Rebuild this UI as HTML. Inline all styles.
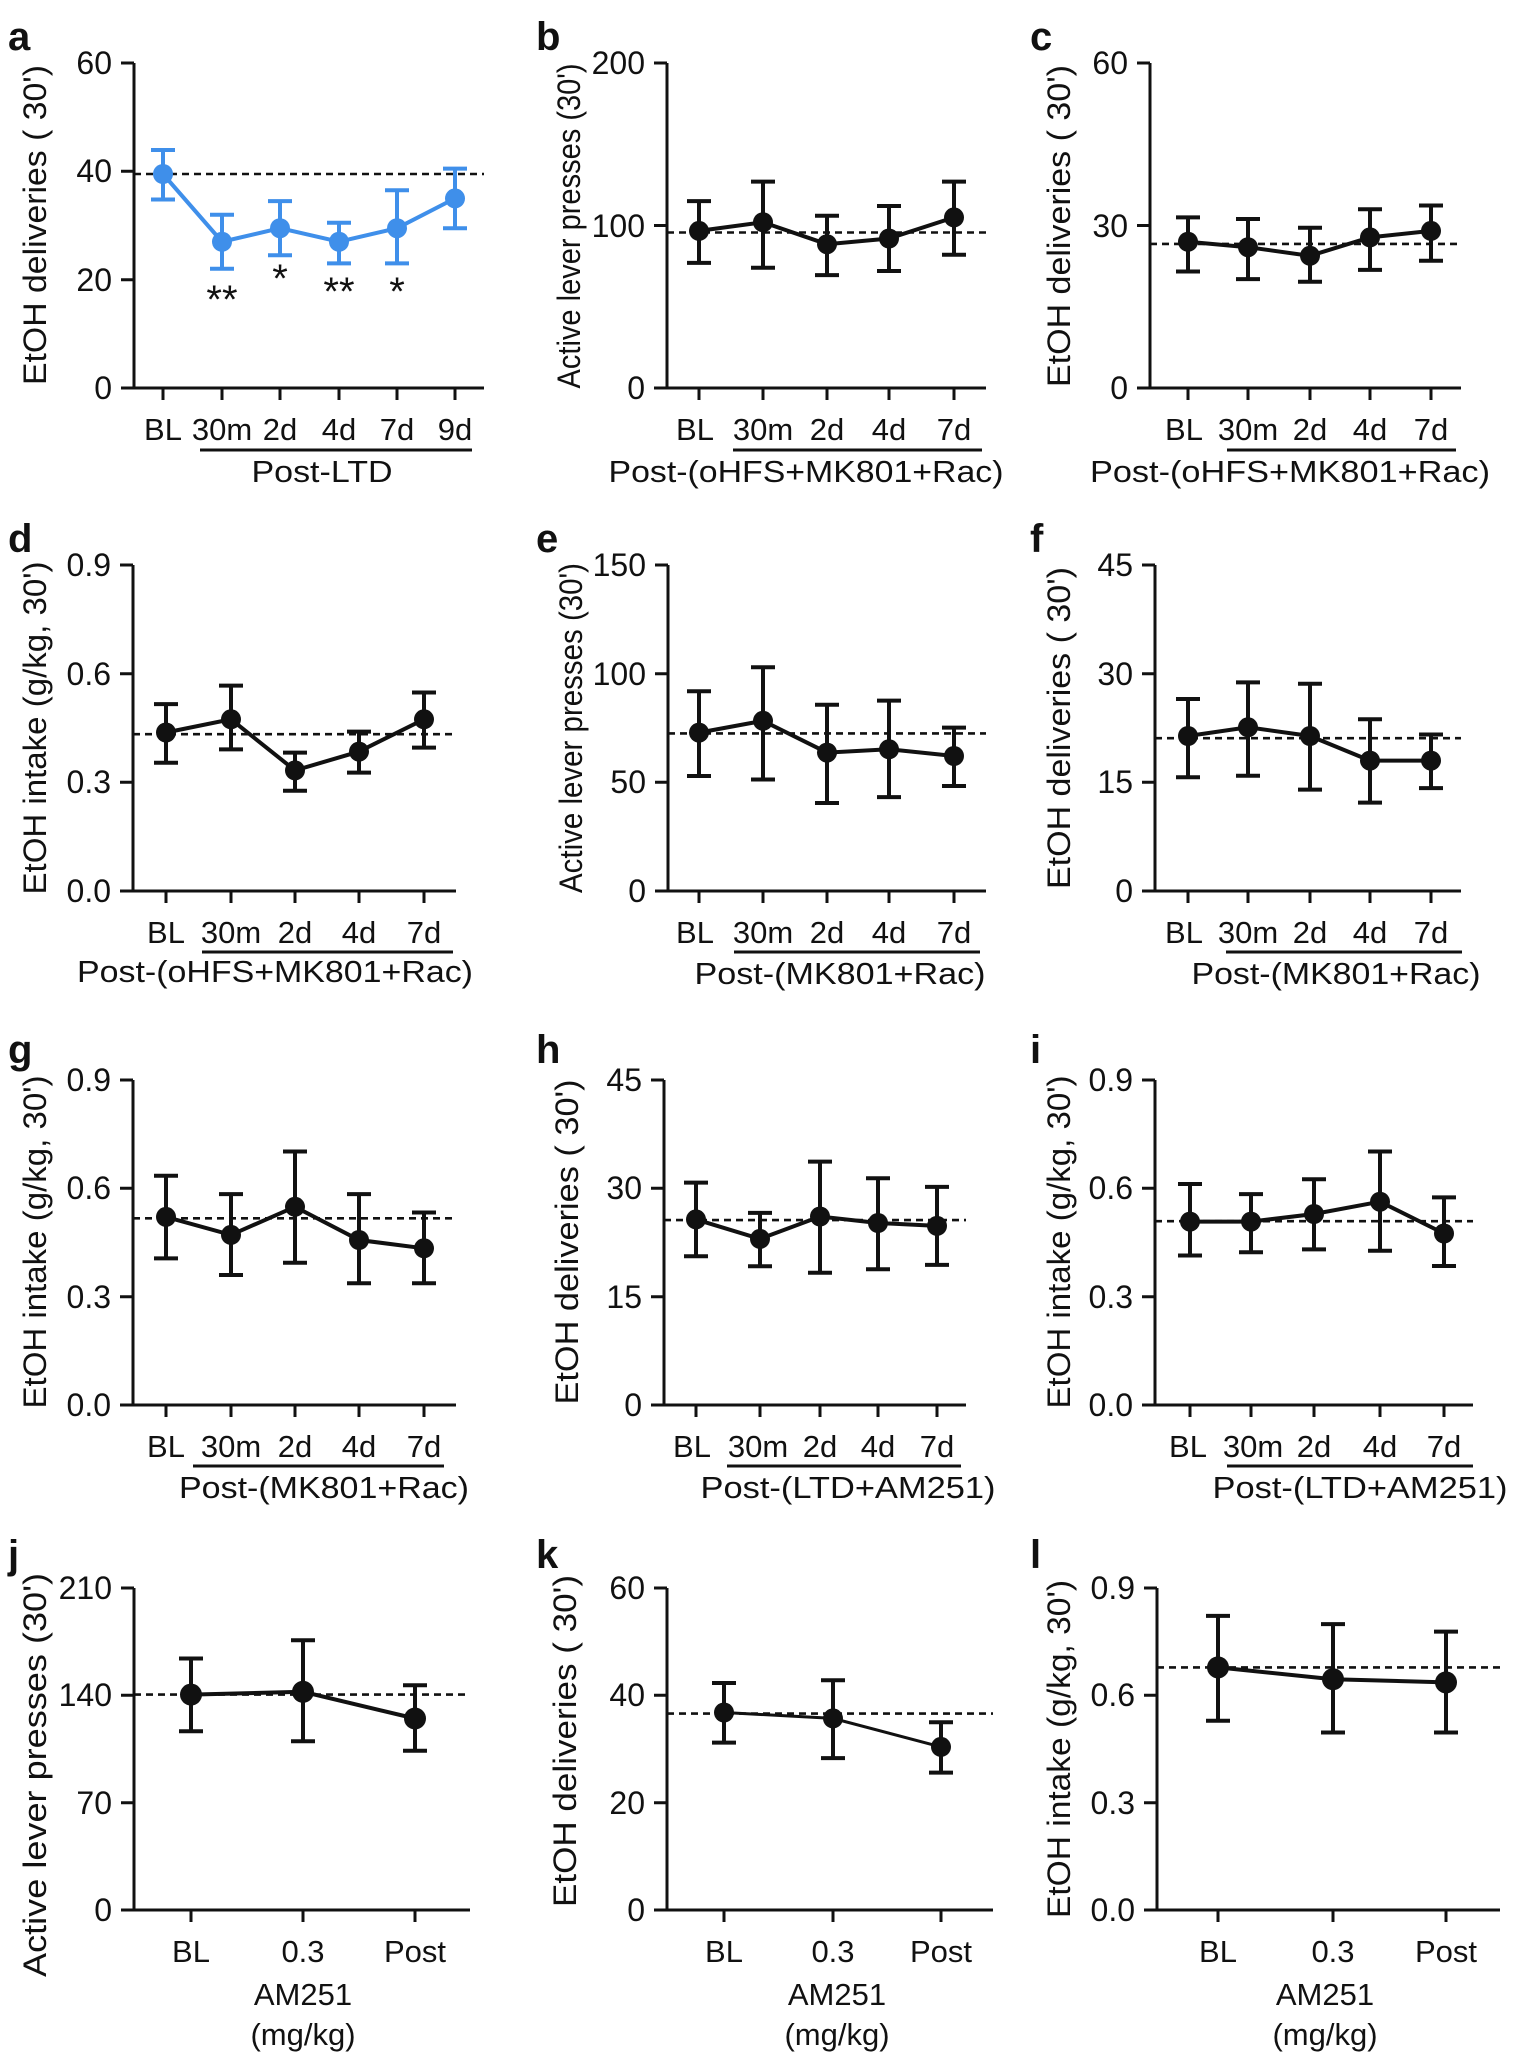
<!DOCTYPE html>
<html><head><meta charset="utf-8"><style>
html,body{margin:0;padding:0;background:#fff}
svg{display:block}
text{font-family:"Liberation Sans Narrow","Liberation Sans",Arial,sans-serif;fill:#111}
.ax{stroke:#111;stroke-width:3;fill:none}
.d{stroke:#111;stroke-width:2.6;stroke-dasharray:7 5;fill:none}
.k{stroke:#111;stroke-width:4;fill:none}
.kd{fill:#111}
.b{stroke:#3f8fea;stroke-width:4;fill:none}
.bd{fill:#3f8fea}
.yt{font-size:32px;text-anchor:end}
.xt{font-size:31px;text-anchor:middle}
.gl{font-size:31px;text-anchor:middle}
.yl{font-size:32px;text-anchor:middle}
.pl{font-size:40px;font-weight:bold;font-family:"Liberation Sans",Arial,sans-serif}
.st{font-size:40px;text-anchor:middle}
</style></head><body>
<svg width="1514" height="2066" viewBox="0 0 1514 2066" xmlns="http://www.w3.org/2000/svg">
<rect width="1514" height="2066" fill="#fff"/>

<!-- ===== Panel a ===== -->
<text class="pl" x="8" y="50">a</text>
<text class="yl" transform="translate(46,225) rotate(-90)" textLength="320" lengthAdjust="spacingAndGlyphs">EtOH deliveries ( 30')</text>
<path class="ax" d="M134,63V388M121,63H134M121,171.3H134M121,279.7H134M121,388H484M163,388V400M222,388V400M280,388V400M339,388V400M397,388V400M455,388V400"/>
<text class="yt" x="112" y="74">60</text><text class="yt" x="112" y="182">40</text><text class="yt" x="112" y="291">20</text><text class="yt" x="112" y="399">0</text>
<path class="d" d="M134,174H484"/>
<path class="b" d="M163,150V199.5M151,150H175M151,199.5H175M222,214.7V268.8M210,214.7H234M210,268.8H234M280,201.1V255.3M268,201.1H292M268,255.3H292M339,222.8V263.4M327,222.8H351M327,263.4H351M397,190.3V263.4M385,190.3H409M385,263.4H409M455,168.6V228.2M443,168.6H467M443,228.2H467"/>
<polyline class="b" points="163,174 222,241.75 280,228.2 339,241.75 397,228.2 455,198.4"/>
<g class="bd"><circle cx="163" cy="174" r="10"/><circle cx="222" cy="241.75" r="10"/><circle cx="280" cy="228.2" r="10"/><circle cx="339" cy="241.75" r="10"/><circle cx="397" cy="228.2" r="10"/><circle cx="455" cy="198.4" r="10"/></g>
<text class="st" x="222" y="313">**</text><text class="st" x="280" y="292">*</text><text class="st" x="339" y="305">**</text><text class="st" x="397" y="305">*</text>
<g class="xt"><text x="163" y="440">BL</text><text x="222" y="440">30m</text><text x="280" y="440">2d</text><text x="339" y="440">4d</text><text x="397" y="440">7d</text><text x="455" y="440">9d</text></g>
<path class="ax" d="M200,450H472"/>
<text class="gl" x="322" y="482" textLength="141" lengthAdjust="spacingAndGlyphs">Post-LTD</text>

<!-- ===== Panel b ===== -->
<text class="pl" x="536" y="50">b</text>
<text class="yl" transform="translate(580,226) rotate(-90)" textLength="325" lengthAdjust="spacingAndGlyphs">Active lever presses (30')</text>
<path class="ax" d="M667,63V388M654,63H667M654,225.5H667M654,388H986M699,388V400M763,388V400M827,388V400M889,388V400M954,388V400"/>
<text class="yt" x="645" y="74">200</text><text class="yt" x="645" y="237">100</text><text class="yt" x="645" y="399">0</text>
<path class="d" d="M667,232.5H986"/>
<path class="k" d="M699,201.1V262.9M687,201.1H711M687,262.9H711M763,181.6V267.7M751,181.6H775M751,267.7H775M827,215.75V275.1M815,215.75H839M815,275.1H839M889,206V271M877,206H901M877,271H901M954,181.6V254.75M942,181.6H966M942,254.75H966"/>
<polyline class="k" points="699,230.9 763,222.25 827,244.2 889,238.5 954,217.4"/>
<g class="kd"><circle cx="699" cy="230.9" r="10"/><circle cx="763" cy="222.25" r="10"/><circle cx="827" cy="244.2" r="10"/><circle cx="889" cy="238.5" r="10"/><circle cx="954" cy="217.4" r="10"/></g>
<g class="xt"><text x="695" y="440">BL</text><text x="763" y="440">30m</text><text x="827" y="440">2d</text><text x="889" y="440">4d</text><text x="954" y="440">7d</text></g>
<path class="ax" d="M733,450H982"/>
<text class="gl" x="806" y="482" textLength="395" lengthAdjust="spacingAndGlyphs">Post-(oHFS+MK801+Rac)</text>

<!-- ===== Panel c ===== -->
<text class="pl" x="1030" y="50">c</text>
<text class="yl" transform="translate(1070,226) rotate(-90)" textLength="322" lengthAdjust="spacingAndGlyphs">EtOH deliveries ( 30')</text>
<path class="ax" d="M1150,63V388M1137,63H1150M1137,225.5H1150M1137,388H1461M1188,388V400M1248,388V400M1310,388V400M1370,388V400M1431,388V400"/>
<text class="yt" x="1128" y="74">60</text><text class="yt" x="1128" y="237">30</text><text class="yt" x="1128" y="399">0</text>
<path class="d" d="M1150,243.9H1461"/>
<path class="k" d="M1188,217.4V271.5M1176,217.4H1200M1176,271.5H1200M1248,219V279.1M1236,219H1260M1236,279.1H1260M1310,227.7V281.8M1298,227.7H1322M1298,281.8H1322M1370,209.25V269.9M1358,209.25H1382M1358,269.9H1382M1431,205.45V260.7M1419,205.45H1443M1419,260.7H1443"/>
<polyline class="k" points="1188,241.75 1248,247.2 1310,255.8 1370,237.4 1431,230.9"/>
<g class="kd"><circle cx="1188" cy="241.75" r="10"/><circle cx="1248" cy="247.2" r="10"/><circle cx="1310" cy="255.8" r="10"/><circle cx="1370" cy="237.4" r="10"/><circle cx="1431" cy="230.9" r="10"/></g>
<g class="xt"><text x="1184" y="440">BL</text><text x="1248" y="440">30m</text><text x="1310" y="440">2d</text><text x="1370" y="440">4d</text><text x="1431" y="440">7d</text></g>
<path class="ax" d="M1227,450H1456"/>
<text class="gl" x="1290" y="482" textLength="400" lengthAdjust="spacingAndGlyphs">Post-(oHFS+MK801+Rac)</text>

<!-- ===== Panel d ===== -->
<text class="pl" x="8" y="552">d</text>
<text class="yl" transform="translate(46,728) rotate(-90)" textLength="333" lengthAdjust="spacingAndGlyphs">EtOH intake (g/kg, 30')</text>
<path class="ax" d="M133,565V891M120,565H133M120,673.7H133M120,782.3H133M120,891H456M166,891V903M231,891V903M295,891V903M359,891V903M424,891V903"/>
<text class="yt" x="111" y="576">0.9</text><text class="yt" x="111" y="685">0.6</text><text class="yt" x="111" y="793">0.3</text><text class="yt" x="111" y="902">0.0</text>
<path class="d" d="M133,734.2H456"/>
<path class="k" d="M166,704.1V762.8M154,704.1H178M154,762.8H178M231,685.6V749.4M219,685.6H243M219,749.4H243M295,752.6V790.7M283,752.6H307M283,790.7H307M359,731.6V772.6M347,731.6H371M347,772.6H371M424,692.5V747.6M412,692.5H436M412,747.6H436"/>
<polyline class="k" points="166,732.5 231,719.3 295,770.4 359,751.6 424,719.3"/>
<g class="kd"><circle cx="166" cy="732.5" r="10"/><circle cx="231" cy="719.3" r="10"/><circle cx="295" cy="770.4" r="10"/><circle cx="359" cy="751.6" r="10"/><circle cx="424" cy="719.3" r="10"/></g>
<g class="xt"><text x="166" y="943">BL</text><text x="231" y="943">30m</text><text x="295" y="943">2d</text><text x="359" y="943">4d</text><text x="424" y="943">7d</text></g>
<path class="ax" d="M202,952H453"/>
<text class="gl" x="275" y="982" textLength="396" lengthAdjust="spacingAndGlyphs">Post-(oHFS+MK801+Rac)</text>

<!-- ===== Panel e ===== -->
<text class="pl" x="536" y="552">e</text>
<text class="yl" transform="translate(582,728) rotate(-90)" textLength="330" lengthAdjust="spacingAndGlyphs">Active lever presses (30')</text>
<path class="ax" d="M668,565V891M655,565H668M655,673.7H668M655,782.3H668M655,891H986M699,891V903M763,891V903M827,891V903M889,891V903M954,891V903"/>
<text class="yt" x="646" y="576">150</text><text class="yt" x="646" y="685">100</text><text class="yt" x="646" y="793">50</text><text class="yt" x="646" y="902">0</text>
<path class="d" d="M668,733.4H986"/>
<path class="k" d="M699,691.3V776M687,691.3H711M687,776H711M763,667.2V779.5M751,667.2H775M751,779.5H775M827,704.75V803M815,704.75H839M815,803H839M889,700.6V797.1M877,700.6H901M877,797.1H901M954,727.6V786M942,727.6H966M942,786H966"/>
<polyline class="k" points="699,732.6 763,720.8 827,752.6 889,749.3 954,756"/>
<g class="kd"><circle cx="699" cy="732.6" r="10"/><circle cx="763" cy="720.8" r="10"/><circle cx="827" cy="752.6" r="10"/><circle cx="889" cy="749.3" r="10"/><circle cx="954" cy="756" r="10"/></g>
<g class="xt"><text x="695" y="943">BL</text><text x="763" y="943">30m</text><text x="827" y="943">2d</text><text x="889" y="943">4d</text><text x="954" y="943">7d</text></g>
<path class="ax" d="M734,952H980"/>
<text class="gl" x="840" y="984" textLength="291" lengthAdjust="spacingAndGlyphs">Post-(MK801+Rac)</text>

<!-- ===== Panel f ===== -->
<text class="pl" x="1030" y="552">f</text>
<text class="yl" transform="translate(1070,728) rotate(-90)" textLength="322" lengthAdjust="spacingAndGlyphs">EtOH deliveries ( 30')</text>
<path class="ax" d="M1155,565V891M1142,565H1155M1142,673.7H1155M1142,782.3H1155M1142,891H1461M1188,891V903M1248,891V903M1310,891V903M1370,891V903M1431,891V903"/>
<text class="yt" x="1133" y="576">45</text><text class="yt" x="1133" y="685">30</text><text class="yt" x="1133" y="793">15</text><text class="yt" x="1133" y="902">0</text>
<path class="d" d="M1155,738.2H1461"/>
<path class="k" d="M1188,699V777.3M1176,699H1200M1176,777.3H1200M1248,682.4V775.8M1236,682.4H1260M1236,775.8H1260M1310,683.8V789.6M1298,683.8H1322M1298,789.6H1322M1370,719.3V802.6M1358,719.3H1382M1358,802.6H1382M1431,734.5V788.1M1419,734.5H1443M1419,788.1H1443"/>
<polyline class="k" points="1188,736 1248,727.3 1310,736 1370,760.6 1431,760.6"/>
<g class="kd"><circle cx="1188" cy="736" r="10"/><circle cx="1248" cy="727.3" r="10"/><circle cx="1310" cy="736" r="10"/><circle cx="1370" cy="760.6" r="10"/><circle cx="1431" cy="760.6" r="10"/></g>
<g class="xt"><text x="1184" y="943">BL</text><text x="1248" y="943">30m</text><text x="1310" y="943">2d</text><text x="1370" y="943">4d</text><text x="1431" y="943">7d</text></g>
<path class="ax" d="M1226,952H1462"/>
<text class="gl" x="1336" y="984" textLength="289" lengthAdjust="spacingAndGlyphs">Post-(MK801+Rac)</text>

<!-- ===== Panel g ===== -->
<text class="pl" x="8" y="1063">g</text>
<text class="yl" transform="translate(46,1242) rotate(-90)" textLength="333" lengthAdjust="spacingAndGlyphs">EtOH intake (g/kg, 30')</text>
<path class="ax" d="M133,1080V1405M120,1080H133M120,1188.3H133M120,1296.7H133M120,1405H456M166,1405V1417M231,1405V1417M295,1405V1417M359,1405V1417M424,1405V1417"/>
<text class="yt" x="111" y="1091">0.9</text><text class="yt" x="111" y="1199">0.6</text><text class="yt" x="111" y="1308">0.3</text><text class="yt" x="111" y="1416">0.0</text>
<path class="d" d="M133,1218.3H456"/>
<path class="k" d="M166,1175.7V1258.4M154,1175.7H178M154,1258.4H178M231,1194.1V1275M219,1194.1H243M219,1275H243M295,1151.5V1262.7M283,1151.5H307M283,1262.7H307M359,1194.1V1283.3M347,1194.1H371M347,1283.3H371M424,1212.5V1283.3M412,1212.5H436M412,1283.3H436"/>
<polyline class="k" points="166,1216.9 231,1234.9 295,1206.8 359,1240 424,1248.3"/>
<g class="kd"><circle cx="166" cy="1216.9" r="10"/><circle cx="231" cy="1234.9" r="10"/><circle cx="295" cy="1206.8" r="10"/><circle cx="359" cy="1240" r="10"/><circle cx="424" cy="1248.3" r="10"/></g>
<g class="xt"><text x="166" y="1457">BL</text><text x="231" y="1457">30m</text><text x="295" y="1457">2d</text><text x="359" y="1457">4d</text><text x="424" y="1457">7d</text></g>
<path class="ax" d="M193,1466H444"/>
<text class="gl" x="324" y="1498" textLength="290" lengthAdjust="spacingAndGlyphs">Post-(MK801+Rac)</text>

<!-- ===== Panel h ===== -->
<text class="pl" x="536" y="1063">h</text>
<text class="yl" transform="translate(578,1242) rotate(-90)" textLength="325" lengthAdjust="spacingAndGlyphs">EtOH deliveries ( 30')</text>
<path class="ax" d="M664,1080V1405M651,1080H664M651,1188.3H664M651,1296.7H664M651,1405H966M696,1405V1417M760,1405V1417M820,1405V1417M878,1405V1417M937,1405V1417"/>
<text class="yt" x="642" y="1091">45</text><text class="yt" x="642" y="1199">30</text><text class="yt" x="642" y="1308">15</text><text class="yt" x="642" y="1416">0</text>
<path class="d" d="M664,1220.1H966"/>
<path class="k" d="M696,1182.6V1256.2M684,1182.6H708M684,1256.2H708M760,1212.9V1266.3M748,1212.9H772M748,1266.3H772M820,1161.6V1272.8M808,1161.6H832M808,1272.8H832M878,1178.2V1269.2M866,1178.2H890M866,1269.2H890M937,1186.9V1264.9M925,1186.9H949M925,1264.9H949"/>
<polyline class="k" points="696,1219.4 760,1238.9 820,1216.5 878,1223 937,1225.9"/>
<g class="kd"><circle cx="696" cy="1219.4" r="10"/><circle cx="760" cy="1238.9" r="10"/><circle cx="820" cy="1216.5" r="10"/><circle cx="878" cy="1223" r="10"/><circle cx="937" cy="1225.9" r="10"/></g>
<g class="xt"><text x="692" y="1457">BL</text><text x="758" y="1457">30m</text><text x="820" y="1457">2d</text><text x="878" y="1457">4d</text><text x="937" y="1457">7d</text></g>
<path class="ax" d="M727,1466H961"/>
<text class="gl" x="848" y="1498" textLength="295" lengthAdjust="spacingAndGlyphs">Post-(LTD+AM251)</text>

<!-- ===== Panel i ===== -->
<text class="pl" x="1030" y="1063">i</text>
<text class="yl" transform="translate(1070,1242) rotate(-90)" textLength="333" lengthAdjust="spacingAndGlyphs">EtOH intake (g/kg, 30')</text>
<path class="ax" d="M1155,1080V1405M1142,1080H1155M1142,1188.3H1155M1142,1296.7H1155M1142,1405H1473M1190,1405V1417M1251,1405V1417M1314,1405V1417M1380,1405V1417M1444,1405V1417"/>
<text class="yt" x="1133" y="1091">0.9</text><text class="yt" x="1133" y="1199">0.6</text><text class="yt" x="1133" y="1308">0.3</text><text class="yt" x="1133" y="1416">0.0</text>
<path class="d" d="M1155,1221.2H1473"/>
<path class="k" d="M1190,1184V1255.5M1178,1184H1202M1178,1255.5H1202M1251,1194.1V1252.3M1239,1194.1H1263M1239,1252.3H1263M1314,1179.3V1249.4M1302,1179.3H1326M1302,1249.4H1326M1380,1151.5V1250.8M1368,1151.5H1392M1368,1250.8H1392M1444,1197.4V1266M1432,1197.4H1456M1432,1266H1456"/>
<polyline class="k" points="1190,1221.6 1251,1221.6 1314,1214 1380,1201.7 1444,1233.5"/>
<g class="kd"><circle cx="1190" cy="1221.6" r="10"/><circle cx="1251" cy="1221.6" r="10"/><circle cx="1314" cy="1214" r="10"/><circle cx="1380" cy="1201.7" r="10"/><circle cx="1444" cy="1233.5" r="10"/></g>
<g class="xt"><text x="1188" y="1457">BL</text><text x="1253" y="1457">30m</text><text x="1314" y="1457">2d</text><text x="1380" y="1457">4d</text><text x="1444" y="1457">7d</text></g>
<path class="ax" d="M1227,1466H1473"/>
<text class="gl" x="1360" y="1498" textLength="295" lengthAdjust="spacingAndGlyphs">Post-(LTD+AM251)</text>

<!-- ===== Panel j ===== -->
<text class="pl" x="8" y="1568">j</text>
<text class="yl" transform="translate(46,1775) rotate(-90)" textLength="404" lengthAdjust="spacingAndGlyphs">Active lever presses (30')</text>
<path class="ax" d="M134,1588V1910M121,1588H134M121,1695.3H134M121,1802.7H134M121,1910H470M191,1910V1922M303,1910V1922M415,1910V1922"/>
<text class="yt" x="112" y="1599">210</text><text class="yt" x="112" y="1706">140</text><text class="yt" x="112" y="1814">70</text><text class="yt" x="112" y="1921">0</text>
<path class="d" d="M134,1694.6H470"/>
<path class="k" d="M191,1658.5V1731.2M179,1658.5H203M179,1731.2H203M303,1640.3V1741.3M291,1640.3H315M291,1741.3H315M415,1685.2V1750.8M403,1685.2H427M403,1750.8H427"/>
<polyline class="k" points="191,1694.6 303,1691.8 415,1718.5"/>
<g class="kd"><circle cx="191" cy="1694.6" r="11"/><circle cx="303" cy="1691.8" r="11"/><circle cx="415" cy="1718.5" r="11"/></g>
<g class="xt"><text x="191" y="1962">BL</text><text x="303" y="1962">0.3</text><text x="415" y="1962">Post</text></g>
<text class="gl" x="303" y="2005">AM251</text>
<text class="gl" x="303" y="2045">(mg/kg)</text>

<!-- ===== Panel k ===== -->
<text class="pl" x="536" y="1568">k</text>
<text class="yl" transform="translate(576,1741) rotate(-90)" textLength="332" lengthAdjust="spacingAndGlyphs">EtOH deliveries ( 30')</text>
<path class="ax" d="M667,1588V1910M654,1588H667M654,1695.3H667M654,1802.7H667M654,1910H993M724,1910V1922M833,1910V1922M941,1910V1922"/>
<text class="yt" x="645" y="1599">60</text><text class="yt" x="645" y="1706">40</text><text class="yt" x="645" y="1814">20</text><text class="yt" x="645" y="1921">0</text>
<path class="d" d="M667,1713.6H993"/>
<path class="k" d="M724,1683V1742.6M712,1683H736M712,1742.6H736M833,1680.3V1758.1M821,1680.3H845M821,1758.1H845M941,1722.2V1772.6M929,1722.2H953M929,1772.6H953"/>
<polyline class="k" points="724,1712.5 833,1718.4 941,1746.9" style="stroke-width:3"/>
<g class="kd"><circle cx="724" cy="1712.5" r="10"/><circle cx="833" cy="1718.4" r="10"/><circle cx="941" cy="1746.9" r="10"/></g>
<g class="xt"><text x="724" y="1962">BL</text><text x="833" y="1962">0.3</text><text x="941" y="1962">Post</text></g>
<text class="gl" x="837" y="2005">AM251</text>
<text class="gl" x="837" y="2045">(mg/kg)</text>

<!-- ===== Panel l ===== -->
<text class="pl" x="1030" y="1568">l</text>
<text class="yl" transform="translate(1070,1749) rotate(-90)" textLength="338" lengthAdjust="spacingAndGlyphs">EtOH intake (g/kg, 30')</text>
<path class="ax" d="M1157,1588V1910M1144,1588H1157M1144,1695.3H1157M1144,1802.7H1157M1144,1910H1500M1218,1910V1922M1333,1910V1922M1446,1910V1922"/>
<text class="yt" x="1135" y="1599">0.9</text><text class="yt" x="1135" y="1706">0.6</text><text class="yt" x="1135" y="1814">0.3</text><text class="yt" x="1135" y="1921">0.0</text>
<path class="d" d="M1157,1667.4H1500"/>
<path class="k" d="M1218,1615.9V1720.7M1206,1615.9H1230M1206,1720.7H1230M1333,1624.1V1732.5M1321,1624.1H1345M1321,1732.5H1345M1446,1631.6V1732.5M1434,1631.6H1458M1434,1732.5H1458"/>
<polyline class="k" points="1218,1667.4 1333,1679.2 1446,1682.4"/>
<g class="kd"><circle cx="1218" cy="1667.4" r="11"/><circle cx="1333" cy="1679.2" r="11"/><circle cx="1446" cy="1682.4" r="11"/></g>
<g class="xt"><text x="1218" y="1962">BL</text><text x="1333" y="1962">0.3</text><text x="1446" y="1962">Post</text></g>
<text class="gl" x="1325" y="2005">AM251</text>
<text class="gl" x="1325" y="2045">(mg/kg)</text>
</svg>
</body></html>
